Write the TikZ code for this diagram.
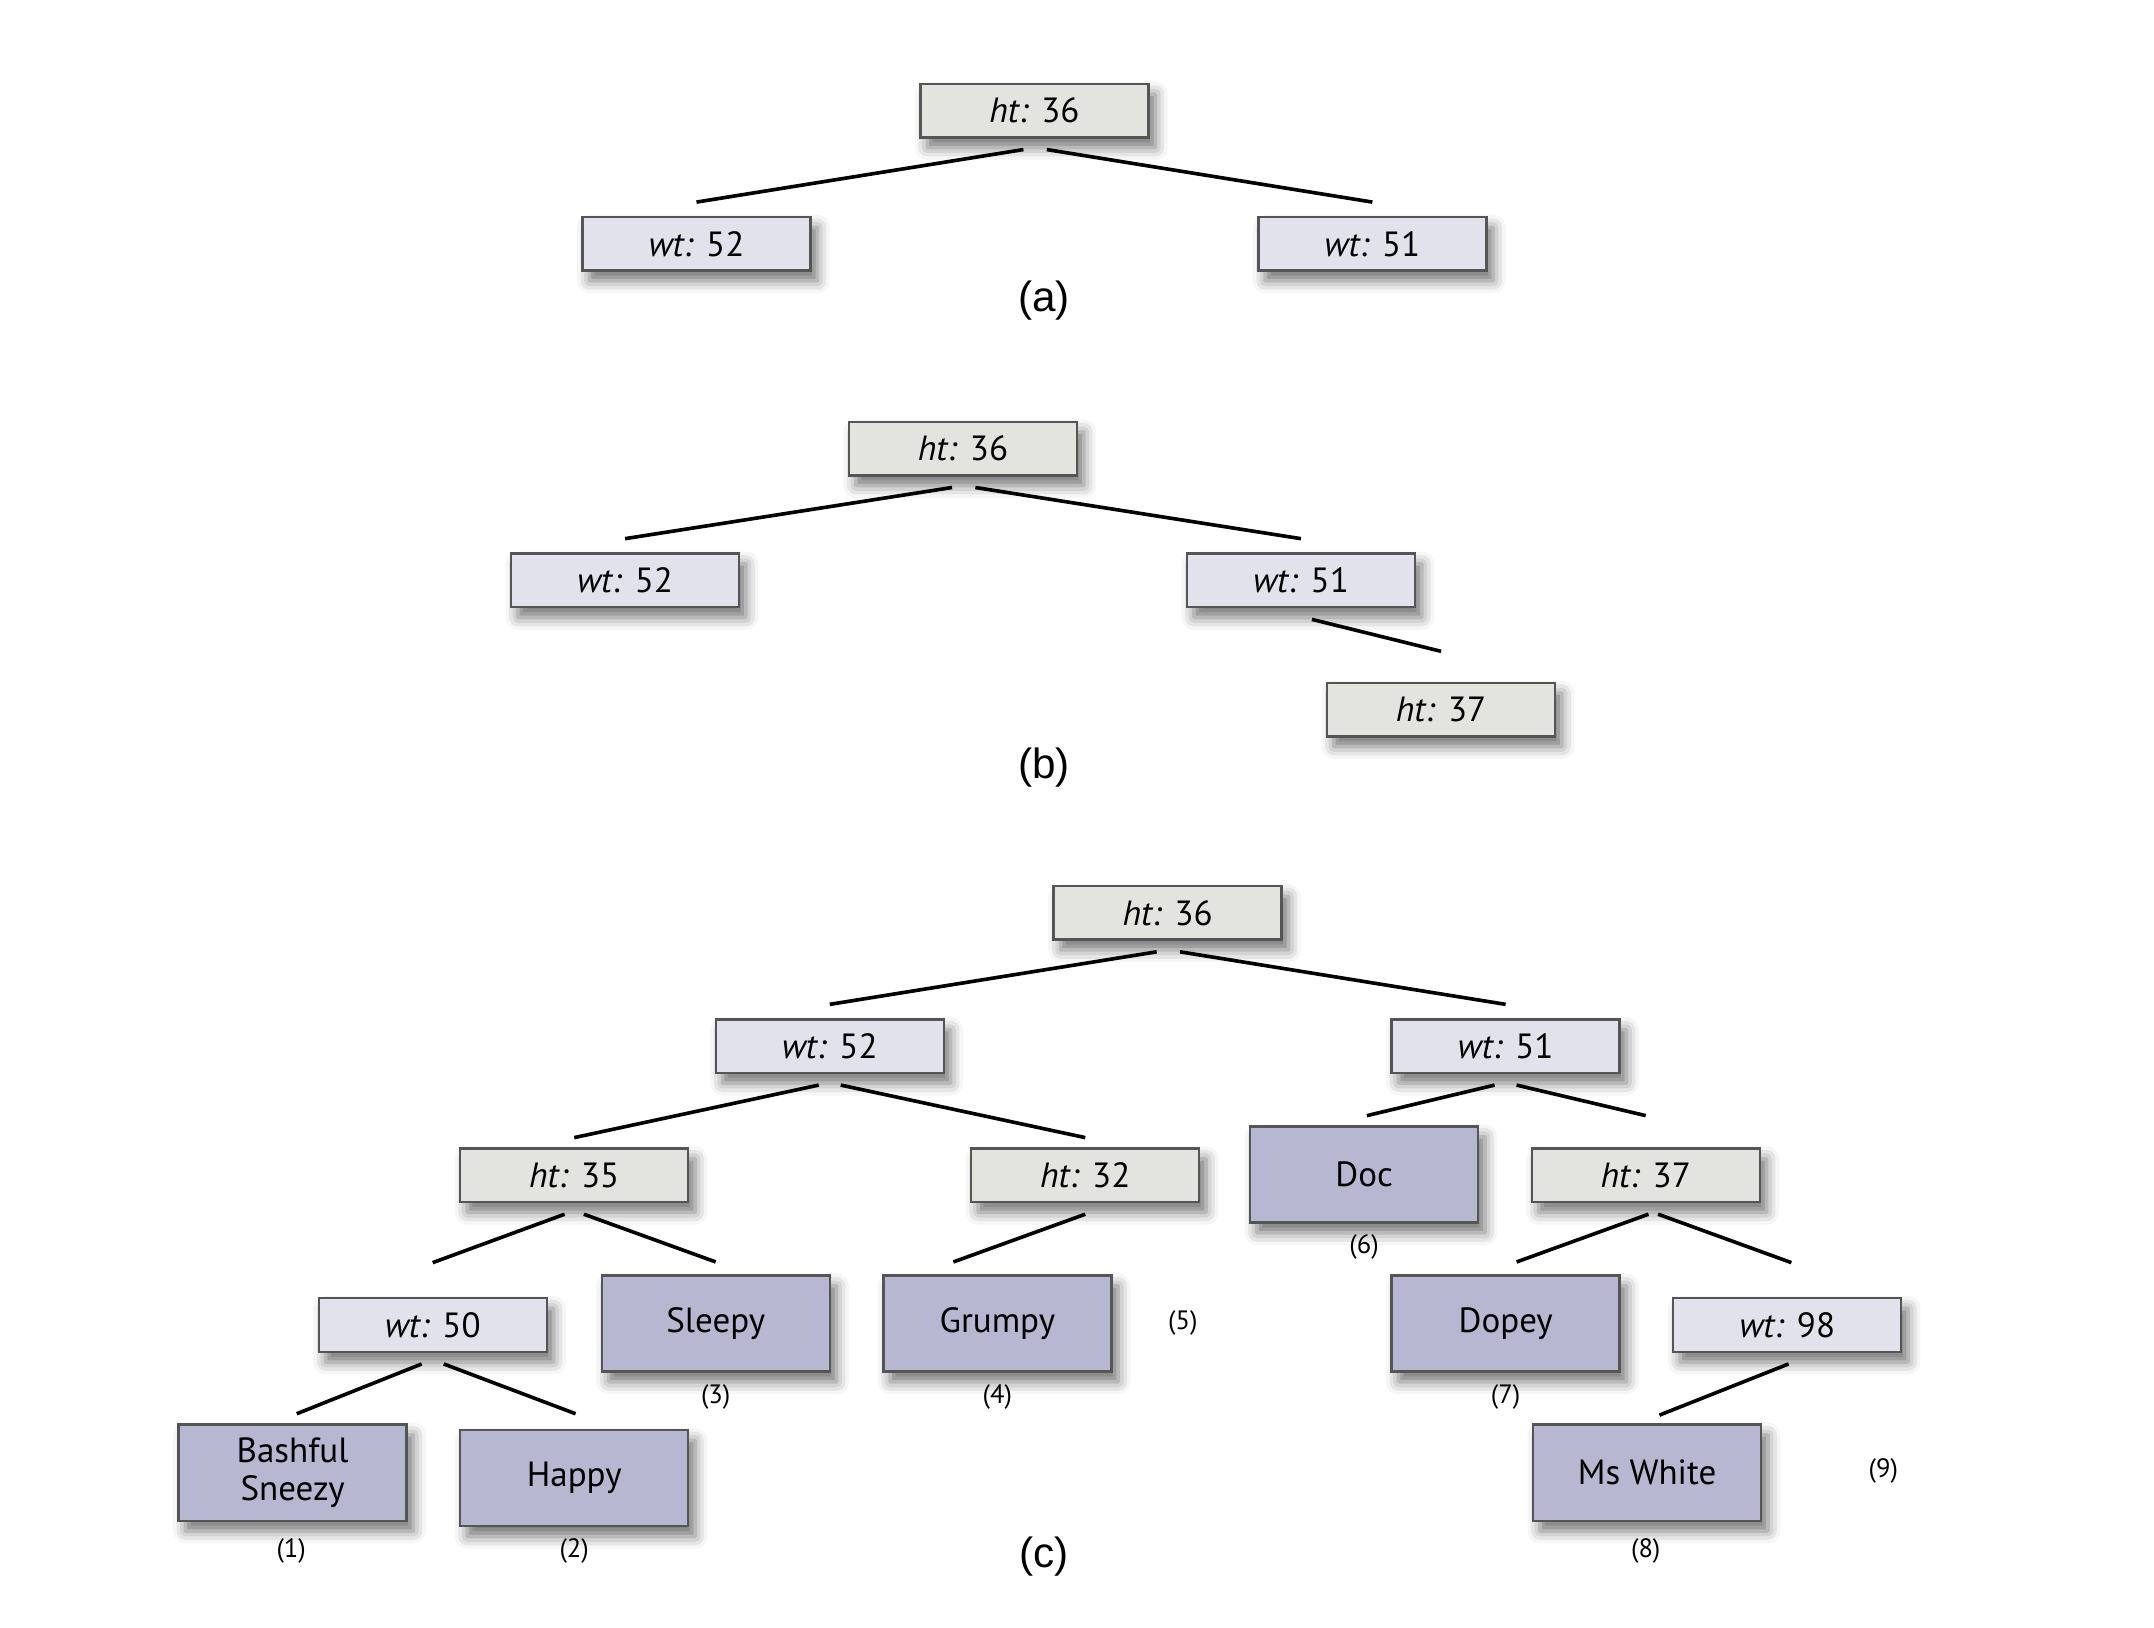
\documentclass[tikz,border=0pt]{standalone}
\usepackage{fontspec}
\setmainfont{PT Sans}
\newfontfamily\capfont{Liberation Sans}
\usetikzlibrary{shadows.blur}
\definecolor{htfill}{RGB}{227,228,224}
\definecolor{wtfill}{RGB}{226,226,236}
\definecolor{leaffill}{RGB}{184,183,209}
\definecolor{boxline}{RGB}{85,85,85}
\begin{document}
\begin{tikzpicture}[x=0.02cm,y=-0.02cm,
    box/.style={draw=boxline, line width=1pt, minimum width=3.32cm, minimum height=0.78cm, inner sep=0pt,
        font=\fontsize{14.5}{16}\selectfont,
        blur shadow={shadow xshift=0.1cm, shadow yshift=-0.15cm, shadow blur radius=0.18cm, shadow opacity=55}},
    htbox/.style={box, fill=htfill},
    wtbox/.style={box, fill=wtfill},
    leaf/.style={box, fill=leaffill, minimum height=1.4cm, align=center},
    edge/.style={line width=1.5pt},
    num/.style={font=\fontsize{11}{13}\selectfont},
    capt/.style={font=\capfont\fontsize{17.5}{20}\selectfont}]
    \useasboundingbox (0,0) rectangle (1568,1185);

    % (a)
    \node[htbox] (a0) at (753,80.5) {\textit{ht:} 36};
    \node[wtbox] (a1) at (507,177.5) {\textit{wt:} 52};
    \node[wtbox] (a2) at (999,177.5) {\textit{wt:} 51};
    \node[capt] (capa) at (760,219) {(a)};

    % (b)
    \node[htbox] (b0) at (701,326.5) {\textit{ht:} 36};
    \node[wtbox] (b1) at (455,422.5) {\textit{wt:} 52};
    \node[wtbox] (b2) at (947,422.5) {\textit{wt:} 51};
    \node[htbox] (b3) at (1049,516.5) {\textit{ht:} 37};
    \node[capt] (capb) at (760,559) {(b)};

    % (c)
    \node[htbox] (c0) at (850,664.5) {\textit{ht:} 36};
    \node[wtbox] (c1) at (604,761.5) {\textit{wt:} 52};
    \node[wtbox] (c2) at (1096,761.5) {\textit{wt:} 51};
    \node[htbox] (c3) at (418,855.5) {\textit{ht:} 35};
    \node[htbox] (c4) at (790,855.5) {\textit{ht:} 32};
    \node[leaf] (doc) at (993,855) {Doc};
    \node[htbox] (c5) at (1198,855.5) {\textit{ht:} 37};
    \node[wtbox] (c6) at (315,964.5) {\textit{wt:} 50};
    \node[leaf] (sleepy) at (521,963.5) {Sleepy};
    \node[leaf] (grumpy) at (726,963.5) {Grumpy};
    \node[leaf] (dopey) at (1096,963.5) {Dopey};
    \node[wtbox] (c7) at (1301,964.5) {\textit{wt:} 98};
    \node[leaf] (bashful) at (213,1072) {Bashful\\Sneezy};
    \node[leaf] (happy) at (418,1076) {Happy};
    \node[leaf] (white) at (1199,1072) {Ms White};
    \node[capt] (capc) at (760,1133) {(c)};

    \node[num] (n1) at (212,1129) {(1)};
    \node[num] (n2) at (418,1129) {(2)};
    \node[num] (n3) at (521,1017) {(3)};
    \node[num] (n4) at (726,1017) {(4)};
    \node[num] (n5) at (861,963) {(5)};
    \node[num] (n6) at (993,908) {(6)};
    \node[num] (n7) at (1096,1017) {(7)};
    \node[num] (n8) at (1198,1129) {(8)};
    \node[num] (n9) at (1371,1071) {(9)};

    % connectors: parent/child/start offset/end offset/gap above child
    \foreach \p/\c/\dx/\ex/\g in {a0/a1/-8/0/10, a0/a2/9/0/10,
        b0/b1/-8/0/10, b0/b2/9/0/10, b2/b3/8/0/22,
        c0/c1/-8/0/10, c0/c2/9/0/10, c1/c3/-8/0/7, c1/c4/8/0/7,
        c2/doc/-8/2/7, c2/c5/8/0/23, c3/c6/-7/0/25, c3/sleepy/7/0/9,
        c4/grumpy/0/-32/9, c5/dopey/2/8/9, c5/c7/9/3/25,
        c6/bashful/-8/3/7, c6/happy/8/1/11, c7/white/1/9/6} {
        \draw[edge] ([xshift=\dx*0.02cm, yshift=-0.16cm]\p.south) -- ([xshift=\ex*0.02cm, yshift=\g*0.02cm]\c.north);
    }
\end{tikzpicture}
\end{document}
